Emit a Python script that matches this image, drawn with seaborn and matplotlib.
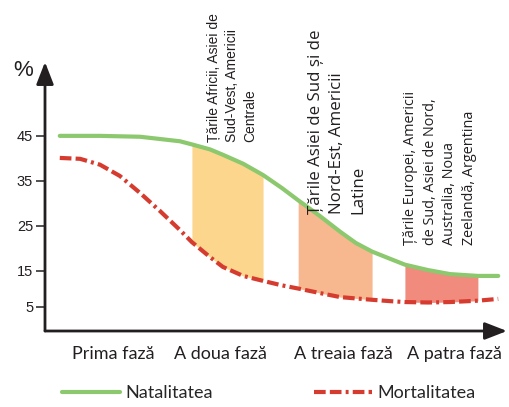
import numpy as np
import pandas as pd
import seaborn as sns
import matplotlib.pyplot as plt
from matplotlib import font_manager

# values (x = time axis 0..100, y = %)
x = [3.2, 7.6, 11.9, 16.2, 20.6, 24.9, 29.2, 31.8, 35.7, 38.5, 42.9, 47.2,
     51.3, 54.8, 59.5, 63.9, 67.3, 70.8, 74.7, 77.9, 82.9, 87.7, 93.7, 98.1]
natalitate = [45.0, 45.0, 45.0, 44.9, 44.8, 44.3, 43.8, 43.1, 42.0, 40.8, 38.8, 36.3,
              33.4, 30.7, 27.2, 23.7, 21.2, 19.3, 17.7, 16.4, 15.2, 14.3, 13.9, 13.9]
mortalitate = [40.1, 39.9, 38.6, 36.1, 32.3, 28.3, 24.1, 21.4, 18.1, 15.9, 13.9, 12.8,
               11.8, 11.1, 10.1, 9.2, 8.9, 8.6, 8.3, 8.1, 8.0, 8.1, 8.4, 8.8]

faze = ['Prima fază', 'A doua fază', 'A treaia fază', 'A patra fază']
faze_pos = [14.7, 37.9, 64.5, 88.7]

ytick_labels = ['5', '15', '25', '35', '45']
ytick_pos = [7, 15, 25, 35, 45]

# shaded bands: start, end, colour
benzi_start = [31.8, 54.8, 77.9]
benzi_end = [47.2, 70.8, 93.7]
benzi_col = ['#fdd68e', '#f8b88f', '#f18b7e']

texte = ['Țările Africii, Asiei de\nSud-Vest, Americii\nCentrale',
         'Țările Asiei de Sud și de\nNord-Est, Americii\nLatine',
         'Țările Europei, Americii\nde Sud, Asiei de Nord,\nAustralia, Noua\nZeelandă, Argentina']
texte_x = [40.5, 63.2, 85.5]
texte_y = [43.7, 27.7, 20.8]

verde = '#8cc86e'
rosu = '#d63b2f'
negru = '#231f20'

sns.set_theme(style='white')
plt.rcParams['font.family'] = ['Lato', 'DejaVu Sans']

df = pd.DataFrame({
    'x': x * 2,
    'y': natalitate + mortalitate,
    'serie': ['Natalitatea'] * len(x) + ['Mortalitatea'] * len(x),
})

fig = plt.figure(figsize=(5.1, 4.07), dpi=100)
ax = fig.add_axes([45 / 510, 1 - 331 / 407, 462 / 510, 269 / 407])

xa = np.array(x)
for a, b, c in zip(benzi_start, benzi_end, benzi_col):
    ax.fill_between(xa, mortalitate, natalitate, where=(xa >= a) & (xa <= b),
                    color=c, lw=0, zorder=1)

sns.lineplot(data=df, x='x', y='y', hue='serie', style='serie',
             hue_order=['Natalitatea', 'Mortalitatea'],
             style_order=['Natalitatea', 'Mortalitatea'],
             palette={'Natalitatea': verde, 'Mortalitatea': rosu},
             dashes={'Natalitatea': '', 'Mortalitatea': (2.8, 1, 2.8, 1, 0.7, 1)},
             lw=3, ax=ax, zorder=3)

ax.set_xlim(0, 100)
ax.set_ylim(1.67, 61.4)
ax.set_xlabel('')
ax.set_ylabel('')
for s in ax.spines.values():
    s.set_visible(False)

ax.set_xticks(faze_pos)
ax.set_xticklabels(faze, fontsize=13, color=negru)
ax.tick_params(axis='x', length=0, pad=11)
ax.set_yticks(ytick_pos)
ax.set_yticklabels(ytick_labels, fontsize=10.5, color=negru, family='Liberation Sans')
ax.tick_params(axis='y', left=True, length=6.5, width=1.1, color=negru, pad=2)

# axis arrows
arrow = dict(arrowstyle='-|>,head_length=0.9,head_width=0.35', lw=2, color=negru,
             shrinkA=0, shrinkB=0, mutation_scale=15)
ax.annotate('', xy=(1, 0), xytext=(0, 0), xycoords='axes fraction', arrowprops=arrow)
ax.annotate('', xy=(0, 1), xytext=(0, 0), xycoords='axes fraction', arrowprops=arrow)
fig.text(23 / 510, 1 - 71 / 407, '%', ha='center', va='center', fontsize=16,
         color=negru, family='Liberation Sans')

names = {f.name for f in font_manager.fontManager.ttflist}
if 'Liberation Sans Narrow' in names:
    f1 = dict(family='Liberation Sans Narrow', fontsize=12.3)
else:
    f1 = dict(family='Liberation Sans', fontsize=10)
fonts = [f1, dict(family='Open Sans', fontsize=12.2), dict(family='Open Sans', fontsize=10.4)]
spacing = [1.35, 1.45, 1.45]
for t, tx, ty, f, ls in zip(texte, texte_x, texte_y, fonts, spacing):
    ax.text(tx, ty, t, rotation=90, ha='center', va='bottom', multialignment='left',
            color=negru, linespacing=ls, **f)

handles, labels = ax.get_legend_handles_labels()
ax.get_legend().remove()
fig.legend(handles, labels, ncol=2, loc='center left',
           bbox_to_anchor=(62 / 510, 1 - 393 / 407), frameon=False,
           handlelength=3.2, handletextpad=0.3, columnspacing=5.6,
           borderpad=0, borderaxespad=0, prop={'family': 'Lato', 'size': 13})

fig.savefig('out.png', dpi=100)
